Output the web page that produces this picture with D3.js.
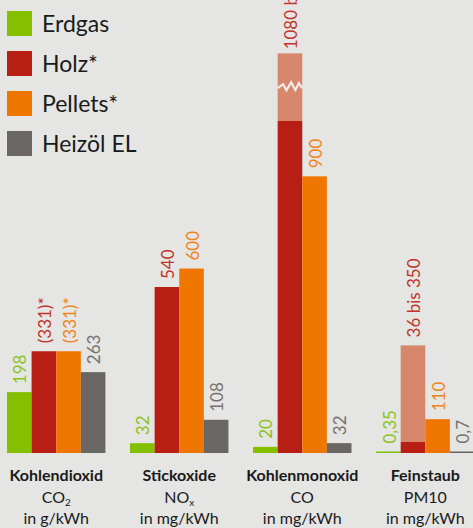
<!DOCTYPE html>
<html lang="de">
<head>
<meta charset="UTF-8">
<title>Emissionen</title>
<script src="https://d3js.org/d3.v7.min.js"></script>
<style>
  body { margin: 0; background: #e5e5e3; }
  svg { display: block; font-family: Lato, "Open Sans", sans-serif; }
</style>
</head>
<body>
<div id="chart"></div>
<script>
// categories and bottom labels
var categories = ["Kohlendioxid", "Stickoxide", "Kohlenmonoxid", "Feinstaub"];
var formulaMain = ["CO", "NO", "CO", "PM10"];
var formulaSub = ["2", "x", "", ""];
var units = ["in g/kWh", "in mg/kWh", "in mg/kWh", "in mg/kWh"];

// series
var seriesNames = ["Erdgas", "Holz*", "Pellets*", "Heizöl EL"];
var erdgas = [198, 32, 20, 0.35];
var holz = [331, 540, 1080, 36];
var pellets = [331, 600, 900, 110];
var heizoel = [263, 108, 32, 0.7];
// upper end of the Holz range (CO bar is drawn broken)
var holzUpper = [null, null, 1300, 350];
var holzBreak = [null, null, 1190, null];

// value labels
var erdgasLabels = ["198", "32", "20", "0,35"];
var holzLabels = ["(331)*", "540", "1080 bis 5000", "36 bis 350"];
var pelletsLabels = ["(331)*", "600", "900", "110"];
var heizoelLabels = ["263", "108", "32", "0,7"];

var colors = ["#84bf00", "#b71f14", "#ef7600", "#6a6663"];
var labelColors = ["#8cc41c", "#c0362a", "#f0841c", "#77736f"];
var lightRed = "#d7876b";

var width = 473, height = 528;
var baseY = 453;

var svg = d3.select("#chart").append("svg")
    .attr("width", width)
    .attr("height", height);

svg.append("rect").attr("width", width).attr("height", height).attr("fill", "#e5e5e3");

var x0 = d3.scaleBand()
    .domain(categories)
    .range([7, 474.5])
    .paddingInner(0.2)
    .paddingOuter(0);

var x1 = d3.scaleBand()
    .domain(seriesNames)
    .range([0, x0.bandwidth()]);

var y = d3.scaleLinear()
    .domain([0, 1080])
    .range([baseY, 121]);

var values = [erdgas, holz, pellets, heizoel];
var labels = [erdgasLabels, holzLabels, pelletsLabels, heizoelLabels];

var data = [];
categories.forEach(function(c, ci) {
    seriesNames.forEach(function(s, si) {
        data.push({
            cat: c, series: s, si: si, ci: ci,
            value: values[si][ci],
            upper: si === 1 ? holzUpper[ci] : null,
            brk: si === 1 ? holzBreak[ci] : null,
            label: labels[si][ci]
        });
    });
});

var g = svg.append("g");

// light range parts (Holz)
g.selectAll("rect.range")
    .data(data.filter(function(d) { return d.upper != null; }))
    .join("rect")
    .attr("class", "range")
    .attr("x", function(d) { return x0(d.cat) + x1(d.series); })
    .attr("width", x1.bandwidth())
    .attr("y", function(d) { return y(d.upper); })
    .attr("height", function(d) { return y(d.value) - y(d.upper); })
    .attr("fill", lightRed);

// bars
g.selectAll("rect.bar")
    .data(data)
    .join("rect")
    .attr("class", "bar")
    .attr("x", function(d) { return x0(d.cat) + x1(d.series); })
    .attr("width", x1.bandwidth())
    .attr("y", function(d) { return Math.min(y(d.value), baseY - 1.5); })
    .attr("height", function(d) { return Math.max(baseY - y(d.value), 1.5); })
    .attr("fill", function(d) { return colors[d.si]; });

// zigzag break mark
g.selectAll("path.break")
    .data(data.filter(function(d) { return d.brk != null; }))
    .join("path")
    .attr("class", "break")
    .attr("d", function(d) {
        var x = x0(d.cat) + x1(d.series), w = x1.bandwidth(), yb = y(d.brk);
        var pts = [[x, yb + 1], [x + w * 0.22, yb - 3], [x + w * 0.36, yb + 3],
                   [x + w * 0.55, yb - 5], [x + w * 0.72, yb + 3], [x + w * 0.86, yb - 4],
                   [x + w, yb + 1]];
        return d3.line()(pts);
    })
    .attr("fill", "none")
    .attr("stroke", "#f1ece8")
    .attr("stroke-width", 2.2);

// value labels (rotated)
g.selectAll("text.val")
    .data(data)
    .join("text")
    .attr("class", "val")
    .attr("transform", function(d) {
        var top = d.upper != null ? y(d.upper) : Math.min(y(d.value), baseY - 1.5);
        var gap = d.brk != null ? 4 : 8;
        var cx = x0(d.cat) + x1(d.series) + x1.bandwidth() / 2;
        return "translate(" + (cx + 1) + "," + (top - gap) + ") rotate(-90)";
    })
    .attr("dy", "0.36em")
    .attr("font-size", 17)
    .attr("fill", function(d) { return labelColors[d.si]; })
    .text(function(d) { return d.label; });

// category labels
var cat = svg.append("g").selectAll("g")
    .data(categories)
    .join("g")
    .attr("transform", function(d) { return "translate(" + (x0(d) + x0.bandwidth() / 2) + ",0)"; })
    .attr("text-anchor", "middle")
    .attr("fill", "#1a1a1a")
    .attr("font-size", 16);

cat.append("text")
    .attr("y", 481)
    .attr("font-weight", "bold")
    .text(function(d) { return d; });

var f = cat.append("text")
    .attr("y", 503)
    .text(function(d, i) { return formulaMain[i]; });
f.append("tspan")
    .attr("font-size", 10)
    .attr("dy", 3)
    .text(function(d, i) { return formulaSub[i]; });

cat.append("text")
    .attr("y", 524)
    .text(function(d, i) { return units[i]; });

// legend
var legend = svg.append("g").selectAll("g")
    .data(seriesNames)
    .join("g")
    .attr("transform", function(d, i) { return "translate(7," + (11 + i * 40) + ")"; });

legend.append("rect")
    .attr("width", 25)
    .attr("height", 25)
    .attr("fill", function(d, i) { return colors[i]; });

legend.append("text")
    .attr("x", 35)
    .attr("y", 21)
    .attr("font-size", 23)
    .attr("fill", "#1a1a1a")
    .text(function(d) { return d; });
</script>
</body>
</html>
